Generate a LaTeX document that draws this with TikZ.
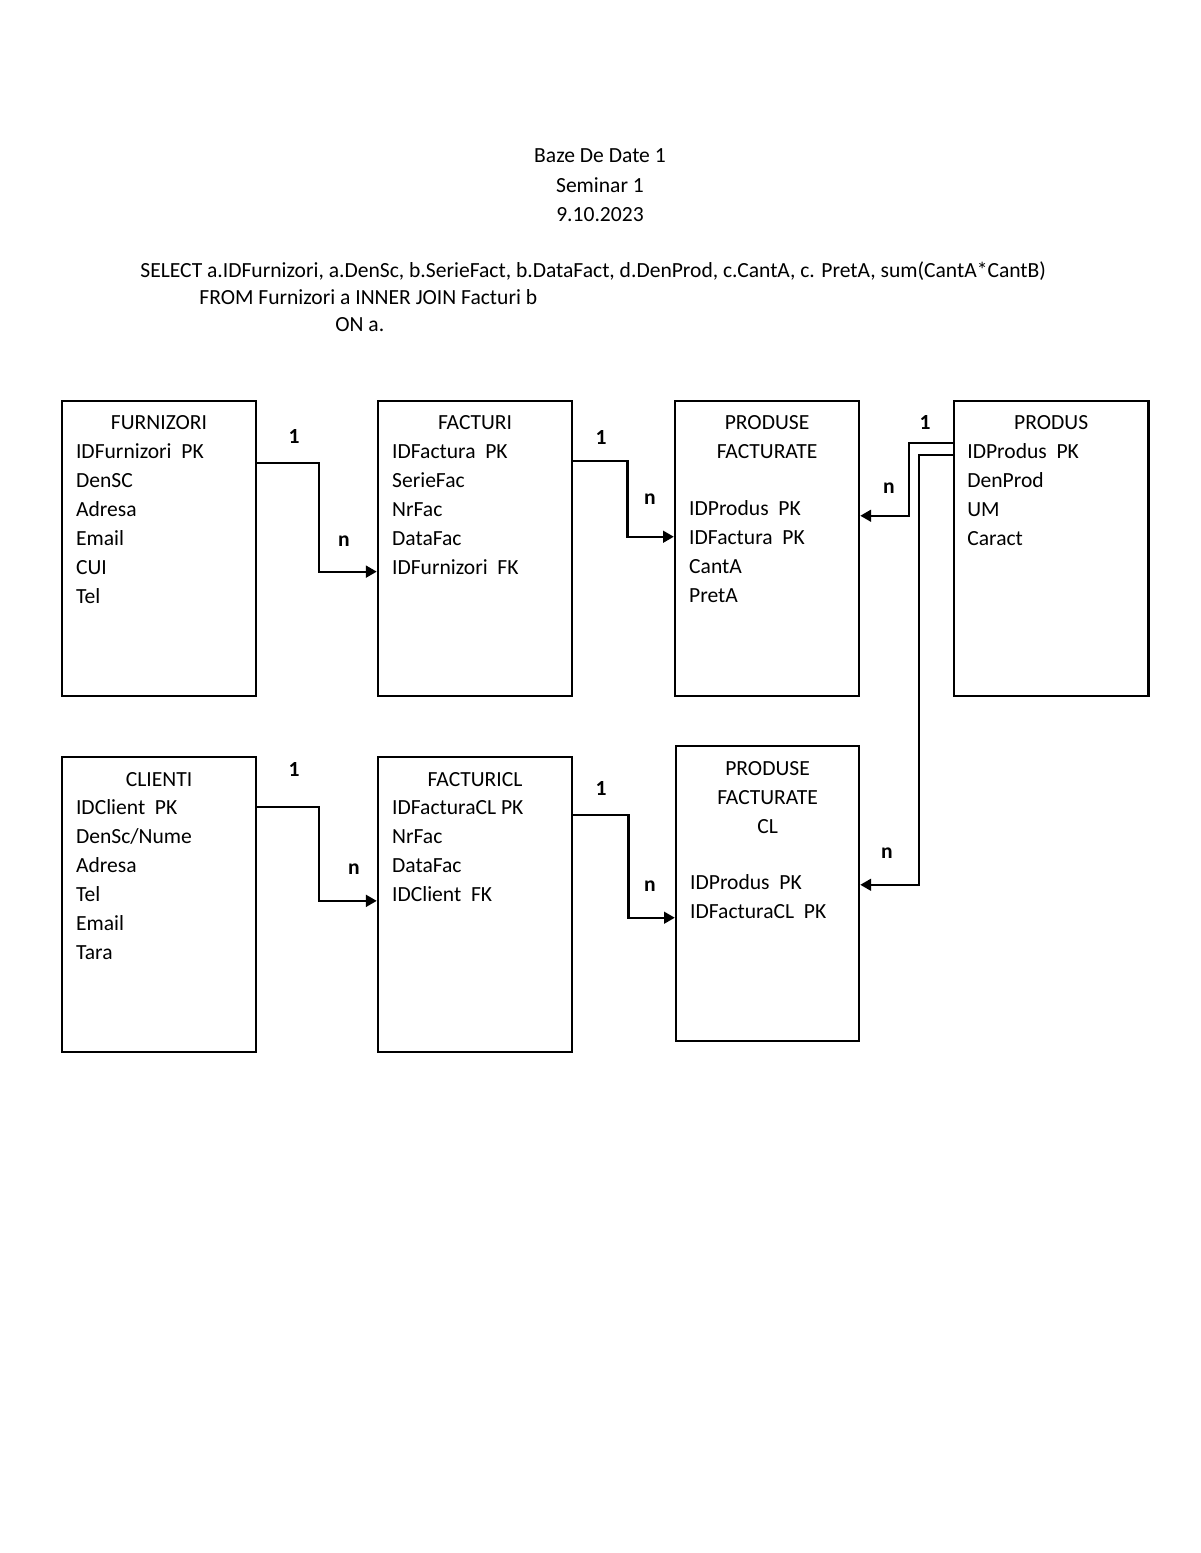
\documentclass[tikz,border=0pt]{standalone}
\usepackage{fontspec}
\setmainfont{Carlito}
\usetikzlibrary{positioning,arrows.meta}

\tikzset{
	tbl/.style={draw, line width=1.3pt, minimum width=99pt, minimum height=150.5pt, inner sep=0pt},
	ttl/.style={anchor=base, inner sep=0pt},
	fields/.style={anchor=base west, inner sep=0pt},
	card/.style={font=\fontsize{11}{13}\selectfont\bfseries, inner sep=0pt},
	rel/.style={line width=1.1pt, -{Triangle[length=5.5pt,width=6pt]}},
}

\begin{document}
\fontsize{11}{14.8}\selectfont
\begin{tikzpicture}[x=0.51pt, y=-0.51pt]
		\useasboundingbox (0,0) rectangle (1200,1553);
		
		% antet
		\node[ttl] (hdr) at (600,163) {\begin{tabular}[t]{@{}c@{}}Baze De Date 1\\ Seminar 1\\ 9.10.2023\end{tabular}};
		\node[fields] (sel) at (140,277) {SELECT a.IDFurnizori, a.DenSc, b.SerieFact, b.DataFact, d.DenProd, c.CantA, c. PretA, sum(CantA*CantB)};
		\node[fields] (from) at (199,304) {FROM Furnizori a INNER JOIN Facturi b};
		\node[fields] (on) at (335,331) {ON a.};
		
		% tabele
		\node[tbl] 										(furn) 		at (159,548.5) {};
		\node[tbl, right=60.9pt of furn] 				(fact) 		{};
		\node[tbl, right=51.2pt of fact, minimum width=93.8pt] 	(pf) 	{};
		\node[tbl, right=47.2pt of pf] 					(produs) 	{};
		\node[tbl, below=29.8pt of furn] 				(cli) 		{};
		\node[tbl, right=60.9pt of cli] 				(factcl) 	{};
		\node[tbl, right=51.7pt of factcl, yshift=5.6pt, minimum width=93.3pt] 	(pfcl) 	{};
		
		\node[ttl] (furnT) at ([yshift=-15pt]furn.north) {FURNIZORI};
		\node[fields] (furnF) at ([xshift=7.65pt, yshift=-29.9pt]furn.north west) {\begin{tabular}[t]{@{}l@{}}IDFurnizori~~PK\\ DenSC\\ Adresa\\ Email\\ CUI\\ Tel\end{tabular}};
		
		\node[ttl] (factT) at ([yshift=-15pt]fact.north) {FACTURI};
		\node[fields] (factF) at ([xshift=7.65pt, yshift=-29.9pt]fact.north west) {\begin{tabular}[t]{@{}l@{}}IDFactura~~PK\\ SerieFac\\ NrFac\\ DataFac\\ IDFurnizori~~FK\end{tabular}};
		
		\node[ttl] (pfT) at ([yshift=-15pt]pf.north) {\begin{tabular}[t]{@{}c@{}}PRODUSE\\ FACTURATE\end{tabular}};
		\node[fields] (pfF) at ([xshift=7.65pt, yshift=-59pt]pf.north west) {\begin{tabular}[t]{@{}l@{}}IDProdus~~PK\\ IDFactura~~PK\\ CantA\\ PretA\end{tabular}};
		
		\node[ttl] (produsT) at ([yshift=-15pt]produs.north) {PRODUS};
		\node[fields] (produsF) at ([xshift=7.2pt, yshift=-29.9pt]produs.north west) {\begin{tabular}[t]{@{}l@{}}IDProdus~~PK\\ DenProd\\ UM\\ Caract\end{tabular}};
		
		\node[ttl] (cliT) at ([yshift=-15.5pt]cli.north) {CLIENTI};
		\node[fields] (cliF) at ([xshift=7.65pt, yshift=-29.9pt]cli.north west) {\begin{tabular}[t]{@{}l@{}}IDClient~~PK\\ DenSc/Nume\\ Adresa\\ Tel\\ Email\\ Tara\end{tabular}};
		
		\node[ttl] (factclT) at ([yshift=-15.5pt]factcl.north) {FACTURICL};
		\node[fields] (factclF) at ([xshift=7.65pt, yshift=-29.9pt]factcl.north west) {\begin{tabular}[t]{@{}l@{}}IDFacturaCL PK\\ NrFac\\ DataFac\\ IDClient~~FK\end{tabular}};
		
		\node[ttl] (pfclT) at ([yshift=-15.5pt]pfcl.north) {\begin{tabular}[t]{@{}c@{}}PRODUSE\\ FACTURATE\\ CL\end{tabular}};
		\node[fields] (pfclF) at ([xshift=7.65pt, yshift=-73.7pt]pfcl.north west) {\begin{tabular}[t]{@{}l@{}}IDProdus~~PK\\ IDFacturaCL~~PK\end{tabular}};
		
		% relatii
		\draw[rel] ([yshift=-32.1pt]furn.north east) -- ++(62,0) |- ([yshift=-87.7pt]fact.north west);
		\draw[rel] ([yshift=-31.1pt]fact.north east) -- ++(54,0) |- ([yshift=-69.9pt]pf.north west);
		\draw[rel] ([yshift=-21.9pt]produs.north west) -- ++(-44,0) |- ([yshift=-59.2pt]pf.north east);
		\draw[rel] ([yshift=-28.1pt]produs.north west) -- ++(-34,0) |- ([yshift=-71.4pt]pfcl.north east);
		\draw[rel] ([yshift=-26pt]cli.north east) -- ++(62,0) |- ([yshift=-74pt]factcl.north west);
		\draw[rel] ([yshift=-30.1pt]factcl.north east) -- ++(55,0) |- ([yshift=-88.2pt]pfcl.north west);
		
		\node[card] (c1) at (294,436) {1};
		\node[card] (c2) at (344,541) {n};
		\node[card] (c3) at (601,437) {1};
		\node[card] (c4) at (650,499) {n};
		\node[card] (c5) at (925,422) {1};
		\node[card] (c6) at (889,488) {n};
		\node[card] (c7) at (887,853) {n};
		\node[card] (c8) at (294,769) {1};
		\node[card] (c9) at (354,869) {n};
		\node[card] (c10) at (601,788) {1};
		\node[card] (c11) at (650,886) {n};
\end{tikzpicture}
\end{document}
